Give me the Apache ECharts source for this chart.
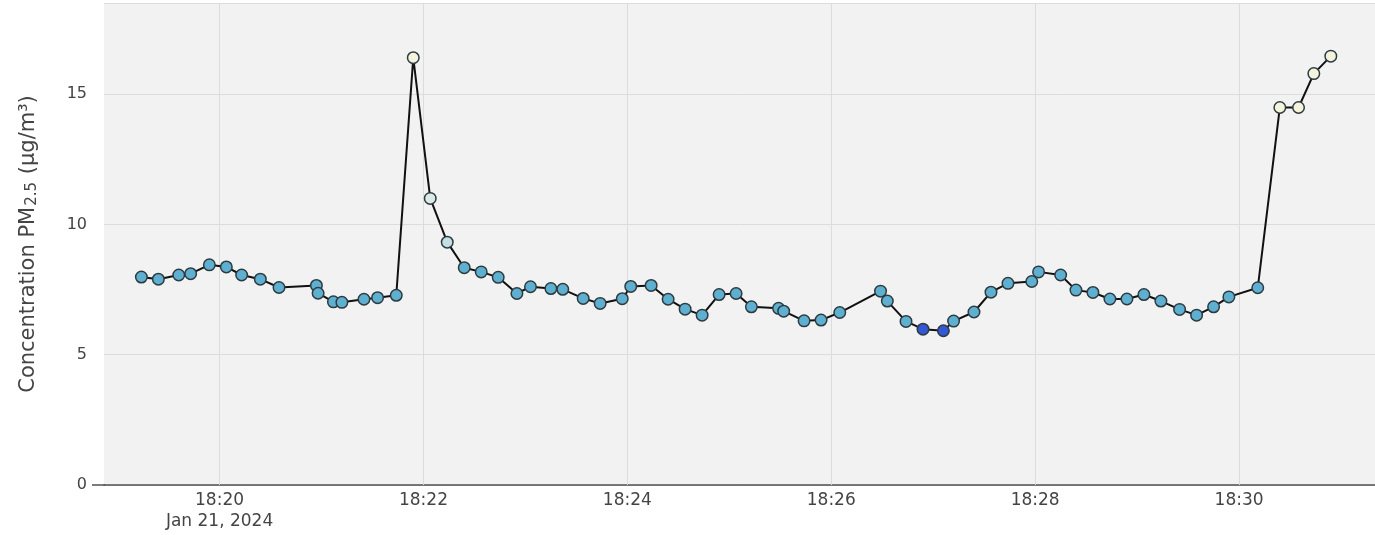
<!DOCTYPE html>
<html>
<head>
<meta charset="utf-8">
<script src="https://cdn.jsdelivr.net/npm/echarts@6/dist/echarts.min.js"></script>
<style>
html,body{margin:0;padding:0;background:#fff;}
#chart{width:1375px;height:535px;}
</style>
</head>
<body>
<div id="chart"></div>
<script>
// Data: timestamps (Jan 21, 2024) and PM2.5 concentrations
const times = [
  "18:19:14","18:19:24","18:19:36","18:19:43","18:19:54","18:20:04","18:20:13","18:20:24","18:20:35",
  "18:20:57","18:20:58","18:21:07","18:21:12","18:21:25","18:21:33","18:21:44","18:21:54","18:22:04",
  "18:22:14","18:22:24","18:22:34","18:22:44","18:22:55","18:23:03","18:23:15","18:23:22","18:23:34",
  "18:23:44","18:23:57","18:24:02","18:24:14","18:24:24","18:24:34","18:24:44","18:24:54","18:25:04",
  "18:25:13","18:25:29","18:25:32","18:25:44","18:25:54","18:26:05","18:26:29","18:26:33","18:26:44",
  "18:26:54","18:27:06","18:27:12","18:27:24","18:27:34","18:27:44","18:27:58","18:28:02","18:28:15",
  "18:28:24","18:28:34","18:28:44","18:28:54","18:29:04","18:29:14","18:29:25","18:29:35","18:29:45",
  "18:29:54","18:30:11","18:30:24","18:30:35","18:30:44","18:30:54"
];
const values = [
  7.98,7.90,8.06,8.11,8.45,8.37,8.06,7.90,7.58,
  7.66,7.36,7.03,7.01,7.13,7.19,7.28,16.40,11.0,
  9.32,8.34,8.18,7.97,7.35,7.61,7.54,7.51,7.16,
  6.97,7.15,7.62,7.66,7.13,6.75,6.52,7.31,7.35,
  6.84,6.78,6.67,6.30,6.33,6.62,7.44,7.06,6.28,
  5.98,5.92,6.29,6.64,7.40,7.74,7.81,8.18,8.06,
  7.48,7.39,7.14,7.14,7.31,7.06,6.74,6.52,6.84,
  7.22,7.57,14.49,14.49,15.79,16.46
];
const dateLabel = "Jan 21, 2024";
const baseTime = "18:20:00";   // x values are seconds from this time
const xMin = "18:18:52";
const xMax = "18:31:20";
const xTicks = ["18:20", "18:22", "18:24", "18:26", "18:28", "18:30"];
const yTicks = [0, 5, 10, 15];

function secs(hms){
  const p = hms.split(":").map(Number);
  return p[0] * 3600 + p[1] * 60 + (p[2] || 0);
}
const base = secs(baseTime);
const xTickVals = xTicks.map(t => secs(t) - base);
function colorFor(v){
  if (v < 6.1) return "#3457d2";
  if (v < 9) return "#5fb0d0";
  if (v < 10) return "#c3dfe3";
  if (v < 12) return "#dce9e6";
  return "#f4f4dc";
}

const seriesData = times.map((t, i) => ({
  value: [secs(t) - base, values[i]],
  itemStyle: { color: colorFor(values[i]) }
}));

const chart = echarts.init(document.getElementById("chart"), null, {renderer: "canvas"});
const font = "DejaVu Sans, Verdana, sans-serif";

chart.setOption({
  backgroundColor: "#ffffff",
  animation: false,
  grid: {
    left: 104, right: 0, top: 3, bottom: 50,
    show: true, backgroundColor: "#f2f2f2", borderWidth: 0
  },
  xAxis: {
    type: "value",
    min: secs(xMin) - base, max: secs(xMax) - base,
    interval: 4,
    axisLine: { show: true, onZero: false, lineStyle: { color: "#505050", width: 1.5 } },
    axisTick: { show: false },
    splitLine: { show: false },
    axisLabel: {
      fontFamily: font, fontSize: 17, color: "#444", margin: 5, lineHeight: 21,
      showMinLabel: false, showMaxLabel: false, hideOverlap: false,
      formatter: function (val) {
        const idx = xTickVals.indexOf(val);
        if (idx < 0) return "";
        return val === 0 ? xTicks[idx] + "\n" + dateLabel : xTicks[idx];
      }
    }
  },
  yAxis: {
    type: "value",
    min: yTicks[0], max: 18.5, interval: 5,
    axisLine: { show: false },
    axisTick: { show: false },
    splitLine: { show: true, lineStyle: { color: "#dcdcdc", width: 1 } },
    axisLabel: {
      fontFamily: font, fontSize: 16, color: "#444", margin: 17, showMaxLabel: false,
      formatter: function (v) { return yTicks.indexOf(v) >= 0 ? String(v) : ""; }
    },
    name: "{a|Concentration PM}{s|2.5}{a| (μg/m³)}",
    nameLocation: "middle",
    nameGap: 64,
    nameRotate: 90,
    nameTextStyle: {
      fontFamily: font, color: "#444",
      rich: {
        a: { fontFamily: font, fontSize: 21, color: "#444" },
        s: { fontFamily: font, fontSize: 15, color: "#444", padding: [8, 1, 0, 1] }
      }
    }
  },
  graphic: [{
    type: "line",
    shape: { x1: 92, y1: 485, x2: 105, y2: 485 },
    style: { stroke: "#505050", lineWidth: 1.5 },
    z: 10
  }],
  series: [{
    type: "scatter",
    data: [],
    silent: true,
    z: 1,
    markLine: {
      silent: true,
      symbol: "none",
      label: { show: false },
      lineStyle: { color: "#dcdcdc", width: 1, type: "solid" },
      data: xTickVals.map(v => ({ xAxis: v }))
    }
  }, {
    type: "line",
    data: seriesData,
    symbol: "circle",
    symbolSize: 11.5,
    showAllSymbol: true,
    lineStyle: { color: "#111", width: 2 },
    itemStyle: { borderColor: "#2d3b40", borderWidth: 1.5 },
    z: 5
  }]
});
</script>
</body>
</html>
